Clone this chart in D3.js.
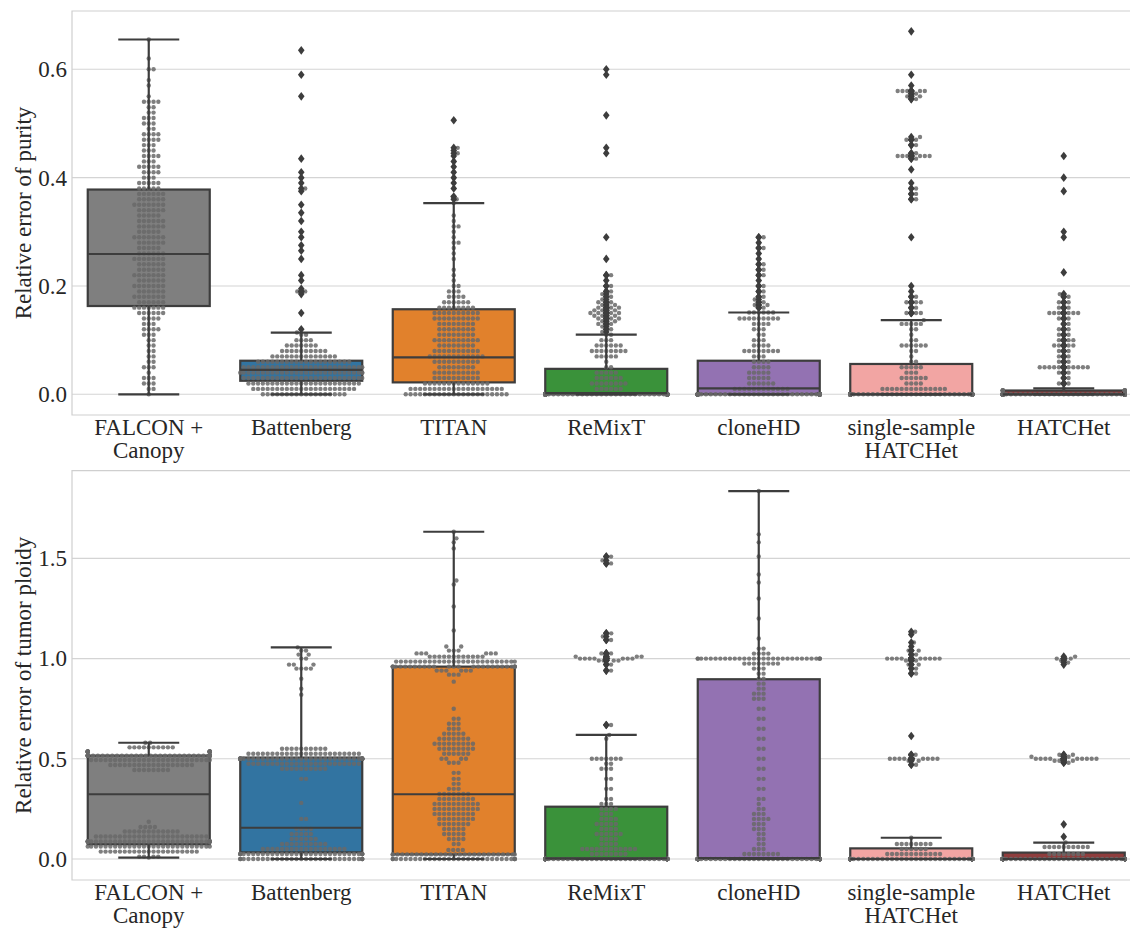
<!DOCTYPE html>
<html>
<head>
<meta charset="utf-8">
<script src="https://cdn.jsdelivr.net/npm/d3@7/dist/d3.min.js"></script>
<style>
  body { margin: 0; background: #fff; font-family: "Liberation Serif", serif; }
  svg text { font-family: "Liberation Serif", serif; }
</style>
</head>
<body>
<svg id="chart" width="1130" height="928"></svg>
<script>
// categories and colours
const methods = ["FALCON + Canopy", "Battenberg", "TITAN", "ReMixT", "cloneHD", "single-sample HATCHet", "HATCHet"];
const methodLines = [["FALCON +", "Canopy"], ["Battenberg"], ["TITAN"], ["ReMixT"], ["cloneHD"], ["single-sample", "HATCHet"], ["HATCHet"]];
const boxColors = ["#7f7f7f", "#3274a1", "#e1812c", "#3a923a", "#9372b2", "#f2a5a3", "#8f3d3d"];

const purityTicks = [0.0, 0.2, 0.4, 0.6];
const ploidyTicks = [0.0, 0.5, 1.0, 1.5];

// box stats: [whisker low, q1, median, q3, whisker high]
const purityBoxes = [
  [0.0, 0.163, 0.259, 0.378, 0.655],
  [0.0, 0.025, 0.045, 0.062, 0.114],
  [0.0, 0.022, 0.068, 0.157, 0.353],
  [0.0, 0.0, 0.002, 0.047, 0.110],
  [0.0, 0.0, 0.011, 0.062, 0.151],
  [0.0, 0.0, 0.0, 0.056, 0.137],
  [0.0, 0.0, 0.0, 0.007, 0.011]
];
const ploidyBoxes = [
  [0.007, 0.073, 0.323, 0.516, 0.580],
  [0.0, 0.033, 0.156, 0.506, 1.056],
  [0.0, 0.023, 0.323, 0.960, 1.633],
  [0.0, 0.0, 0.003, 0.261, 0.619],
  [0.0, 0.0, 0.005, 0.897, 1.836],
  [0.0, 0.0, 0.0, 0.053, 0.106],
  [0.0, 0.0, 0.0, 0.032, 0.082]
];

// sample values: [value, number of samples]
const purityFalcon = [[0.0,1],[0.01,2],[0.02,3],[0.03,3],[0.04,1],[0.05,3],[0.06,2],[0.07,2],[0.08,2],[0.09,2],[0.10,2],[0.11,3],[0.12,4],[0.13,3],[0.14,4],[0.15,6],[0.16,7],[0.17,6],[0.18,7],[0.19,6],[0.20,7],[0.21,6],[0.22,7],[0.23,6],[0.24,6],[0.25,7],[0.26,6],[0.27,5],[0.28,6],[0.29,7],[0.30,5],[0.31,6],[0.32,6],[0.33,5],[0.34,6],[0.35,7],[0.36,6],[0.37,6],[0.38,5],[0.39,5],[0.40,3],[0.41,4],[0.42,5],[0.43,3],[0.44,4],[0.45,3],[0.46,3],[0.47,4],[0.48,4],[0.49,2],[0.50,3],[0.51,3],[0.52,2],[0.53,2],[0.54,4],[0.55,1],[0.57,1],[0.58,1],[0.60,2],[0.62,1],[0.655,1]];
const purityBattenberg = [[0.0,18],[0.01,22],[0.02,24],[0.03,26],[0.04,28],[0.05,26],[0.06,20],[0.07,14],[0.08,10],[0.09,7],[0.10,4],[0.11,2],[0.114,1],[0.12,1],[0.15,1],[0.185,1],[0.19,2],[0.195,1],[0.21,1],[0.22,1],[0.25,1],[0.265,1],[0.275,1],[0.29,1],[0.30,1],[0.32,1],[0.335,1],[0.35,1],[0.375,1],[0.38,1],[0.39,1],[0.40,1],[0.41,1],[0.435,1],[0.55,1],[0.59,1],[0.635,1]];
const purityTitan = [[0.0,22],[0.01,20],[0.02,14],[0.03,10],[0.04,10],[0.05,8],[0.06,10],[0.07,12],[0.08,10],[0.09,8],[0.10,10],[0.11,8],[0.12,8],[0.13,8],[0.14,10],[0.15,10],[0.16,8],[0.17,6],[0.18,4],[0.19,3],[0.20,2],[0.21,1],[0.22,1],[0.23,1],[0.25,1],[0.26,1],[0.27,1],[0.28,2],[0.29,1],[0.30,1],[0.31,2],[0.32,1],[0.33,1],[0.353,1],[0.36,1],[0.365,1],[0.38,1],[0.39,1],[0.40,1],[0.41,1],[0.42,1],[0.43,1],[0.44,1],[0.445,1],[0.45,1],[0.455,1],[0.506,1]];
const purityRemixt = [[0.0,95],[0.01,6],[0.02,8],[0.03,6],[0.04,5],[0.05,2],[0.06,1],[0.07,5],[0.08,8],[0.09,6],[0.10,3],[0.11,2],[0.115,1],[0.12,2],[0.125,1],[0.13,3],[0.135,2],[0.14,4],[0.145,3],[0.15,5],[0.155,3],[0.16,4],[0.165,2],[0.17,3],[0.175,1],[0.18,2],[0.185,1],[0.19,2],[0.20,2],[0.21,1],[0.22,2],[0.25,1],[0.29,1],[0.445,1],[0.455,1],[0.515,1],[0.59,1],[0.60,1]];
const purityClonehd = [[0.0,90],[0.01,12],[0.02,6],[0.03,5],[0.04,5],[0.05,4],[0.06,4],[0.07,3],[0.08,8],[0.09,4],[0.10,3],[0.11,2],[0.12,3],[0.13,4],[0.14,9],[0.151,6],[0.16,2],[0.165,2],[0.17,2],[0.175,1],[0.18,2],[0.19,2],[0.20,2],[0.21,1],[0.22,2],[0.23,2],[0.24,2],[0.25,1],[0.26,1],[0.27,2],[0.28,1],[0.29,2]];
const puritySingle = [[0.0,100],[0.01,14],[0.02,4],[0.03,6],[0.04,3],[0.05,5],[0.06,2],[0.07,1],[0.08,2],[0.09,6],[0.10,2],[0.11,1],[0.12,2],[0.13,5],[0.137,1],[0.15,4],[0.16,2],[0.17,4],[0.18,2],[0.19,1],[0.20,1],[0.29,1],[0.36,2],[0.37,2],[0.38,2],[0.39,1],[0.415,1],[0.435,2],[0.44,6],[0.445,2],[0.46,2],[0.47,3],[0.475,1],[0.545,2],[0.55,2],[0.555,2],[0.56,5],[0.57,1],[0.59,1],[0.67,1]];
const purityHatchet = [[0.0,140],[0.007,10],[0.011,1],[0.02,3],[0.03,2],[0.04,3],[0.05,11],[0.06,3],[0.07,3],[0.08,3],[0.09,5],[0.10,4],[0.11,3],[0.12,3],[0.13,2],[0.14,3],[0.15,7],[0.16,3],[0.17,3],[0.18,2],[0.185,1],[0.225,1],[0.29,1],[0.30,1],[0.375,1],[0.40,1],[0.44,1]];

const ploidyFalcon = [[0.007,1],[0.012,4],[0.037,21],[0.062,27],[0.087,35],[0.112,24],[0.137,12],[0.16,4],[0.186,1],[0.444,8],[0.469,18],[0.494,26],[0.516,45],[0.536,26],[0.557,10],[0.58,2]];
const ploidyBattenberg = [[0.0,30],[0.025,32],[0.05,18],[0.075,10],[0.1,6],[0.125,5],[0.15,4],[0.2,2],[0.28,1],[0.4,2],[0.45,10],[0.475,24],[0.5,40],[0.525,24],[0.55,10],[0.82,1],[0.85,1],[0.9,1],[0.95,4],[0.97,3],[1.0,2],[1.02,2],[1.04,2],[1.056,1]];
const ploidyTitan = [[0.0,30],[0.023,28],[0.045,4],[0.075,2],[0.1,4],[0.125,5],[0.15,5],[0.175,7],[0.2,8],[0.225,9],[0.25,10],[0.275,10],[0.3,8],[0.325,7],[0.35,3],[0.375,2],[0.4,2],[0.43,2],[0.48,3],[0.5,4],[0.525,6],[0.55,8],[0.575,9],[0.6,7],[0.625,5],[0.65,3],[0.675,3],[0.7,2],[0.75,1],[0.885,1],[0.92,3],[0.94,6],[0.96,28],[0.985,26],[1.01,12],[1.026,6],[1.04,3],[1.06,2],[1.14,1],[1.26,1],[1.37,1],[1.39,1],[1.55,1],[1.58,1],[1.6,1],[1.633,1]];
const ploidyRemixt = [[0.0,110],[0.025,8],[0.05,12],[0.075,4],[0.1,4],[0.125,6],[0.15,4],[0.175,5],[0.2,4],[0.225,3],[0.25,4],[0.275,3],[0.3,2],[0.35,2],[0.4,2],[0.45,3],[0.475,2],[0.5,7],[0.6,1],[0.619,1],[0.669,2],[0.94,2],[0.97,2],[0.99,4],[1.0,8],[1.01,3],[1.026,3],[1.093,2],[1.11,1],[1.126,2],[1.475,2],[1.49,1],[1.509,2]];
const ploidyClonehd = [[0.0,120],[0.025,8],[0.05,3],[0.075,2],[0.1,2],[0.125,2],[0.15,3],[0.175,3],[0.2,4],[0.225,3],[0.25,2],[0.275,1],[0.3,2],[0.35,2],[0.4,2],[0.45,2],[0.5,2],[0.55,2],[0.6,2],[0.65,2],[0.7,2],[0.75,2],[0.8,3],[0.825,3],[0.85,2],[0.875,2],[0.9,2],[0.925,2],[0.95,3],[0.975,8],[1.0,30],[1.025,4],[1.05,2],[1.1,1],[1.2,1],[1.3,1],[1.38,1],[1.42,1],[1.51,1],[1.58,1],[1.62,1],[1.836,1]];
const ploidySingle = [[0.0,150],[0.025,12],[0.05,6],[0.075,8],[0.106,1],[0.47,2],[0.49,2],[0.5,9],[0.52,2],[0.614,1],[0.926,2],[0.95,2],[0.97,2],[0.99,3],[1.0,9],[1.02,2],[1.04,2],[1.06,1],[1.08,1],[1.12,1],[1.134,1]];
const ploidyHatchet = [[0.0,170],[0.025,8],[0.06,10],[0.082,1],[0.111,1],[0.173,1],[0.48,2],[0.49,3],[0.5,9],[0.51,3],[0.52,2],[0.97,1],[0.98,1],[0.99,1],[1.0,3],[1.01,1]];

const puritySamples = [purityFalcon, purityBattenberg, purityTitan, purityRemixt, purityClonehd, puritySingle, purityHatchet];
const ploidySamples = [ploidyFalcon, ploidyBattenberg, ploidyTitan, ploidyRemixt, ploidyClonehd, ploidySingle, ploidyHatchet];

// layout
const FONT = "Liberation Serif, serif";
const LINE = "#3d3d3d";
const svg = d3.select("#chart");

const x = d3.scaleBand().domain(methods).range([72.5, 1140]).paddingInner(0).paddingOuter(0);
const boxW = x.bandwidth() * 0.8;

const panels = [
  { label: "Relative error of purity", ticks: purityTicks, boxes: purityBoxes, samples: puritySamples,
    y: d3.scaleLinear().domain([-0.0382, 0.7076]).range([415, 11]) },
  { label: "Relative error of tumor ploidy", ticks: ploidyTicks, boxes: ploidyBoxes, samples: ploidySamples,
    y: d3.scaleLinear().domain([-0.1048, 1.9376]).range([880, 470.7]) }
];

// beeswarm placement in pixel space
function swarm(ys, d, gutter) {
  const pts = ys.slice().sort((a, b) => b - a).map(y => ({ y }));
  const placed = [];
  for (const p of pts) {
    const nb = placed.filter(q => Math.abs(q.y - p.y) < d);
    const cands = [0];
    for (const q of nb) {
      const dx = Math.sqrt(d * d - (q.y - p.y) ** 2);
      cands.push(q.x + dx, q.x - dx);
    }
    cands.sort((a, b) => Math.abs(a) - Math.abs(b));
    p.x = cands.find(c => nb.every(q => (c - q.x) ** 2 + (q.y - p.y) ** 2 >= d * d - 1e-6));
    placed.push(p);
  }
  return placed.map(p => ({ y: p.y, x: Math.max(-gutter, Math.min(gutter, p.x)) }));
}

const marks = svg.append("g");
const labels = svg.append("g");

// plot marks first
panels.forEach(panel => {
  const y = panel.y;
  const [y0, y1] = y.range();
  const g = marks.append("g");

  g.selectAll(".grid").data(panel.ticks).join("line")
    .attr("x1", 72).attr("x2", 1140)
    .attr("y1", d => y(d)).attr("y2", d => y(d))
    .attr("stroke", "#d4d4d4").attr("stroke-width", 1.1);

  g.append("path")
    .attr("d", `M1140,${y1}H72V${y0}H1140`)
    .attr("fill", "none").attr("stroke", "#cfcfcf").attr("stroke-width", 1.2);

  methods.forEach((m, i) => {
    const cx = x(m) + x.bandwidth() / 2;
    const [lo, q1, med, q3, hi] = panel.boxes[i];
    const values = d3.merge(panel.samples[i].map(([v, n]) => d3.range(n).map(() => v)));
    const fliers = values.filter(v => v > hi + 1e-9 || v < lo - 1e-9);

    g.append("rect")
      .attr("x", cx - boxW / 2).attr("width", boxW)
      .attr("y", y(q3)).attr("height", Math.max(0, y(q1) - y(q3)))
      .attr("fill", boxColors[i]).attr("stroke", LINE).attr("stroke-width", 2.2);

    const dots = swarm(values.map(v => y(v)), 4.8, boxW / 2);
    g.append("g").selectAll("circle").data(dots).join("circle")
      .attr("cx", d => cx + d.x).attr("cy", d => d.y).attr("r", 2.2)
      .attr("fill", "#686868").attr("fill-opacity", 0.85);

    const seg = (x1, y1_, x2, y2_) => g.append("line")
      .attr("x1", x1).attr("y1", y1_).attr("x2", x2).attr("y2", y2_)
      .attr("stroke", LINE).attr("stroke-width", 2.2);
    seg(cx, y(q3), cx, y(hi));
    seg(cx, y(q1), cx, y(lo));
    seg(cx - boxW / 4, y(hi), cx + boxW / 4, y(hi));
    seg(cx - boxW / 4, y(lo), cx + boxW / 4, y(lo));
    seg(cx - boxW / 2, y(med), cx + boxW / 2, y(med));

    g.append("g").selectAll("path").data(fliers).join("path")
      .attr("d", v => `M${cx},${y(v) - 4.3}L${cx + 3.3},${y(v)}L${cx},${y(v) + 4.3}L${cx - 3.3},${y(v)}Z`)
      .attr("fill", LINE);
  });
});

// then the axes and texts
panels.forEach(panel => {
  const y = panel.y;
  const [y0, y1] = y.range();
  const g = labels.append("g");

  const ya = g.append("g").attr("transform", "translate(72,0)")
    .call(d3.axisLeft(y).tickValues(panel.ticks).tickFormat(d3.format(".1f")).tickSize(0).tickPadding(5));
  ya.select(".domain").remove();
  ya.attr("font-family", FONT).attr("font-size", 23);
  ya.selectAll("text").attr("fill", "#262626").style("font-family", FONT);

  const xa = g.append("g").attr("transform", `translate(0,${y0})`)
    .call(d3.axisBottom(x).tickSize(0).tickPadding(4));
  xa.select(".domain").remove();
  xa.attr("font-family", FONT).attr("font-size", 23);
  xa.selectAll("text").attr("fill", "#262626").attr("dy", null).style("font-family", FONT).text(null)
    .each(function (d, i) {
      const t = d3.select(this);
      methodLines[i].forEach((s, k) => {
        t.append("tspan").attr("x", 0).attr("dy", k === 0 ? "0.71em" : "1.0em").text(s);
      });
    });

  g.append("text")
    .attr("transform", `translate(31,${(y0 + y1) / 2}) rotate(-90)`)
    .attr("text-anchor", "middle")
    .attr("font-size", 23)
    .attr("fill", "#262626")
    .style("font-family", FONT)
    .text(panel.label);
});
</script>
</body>
</html>
